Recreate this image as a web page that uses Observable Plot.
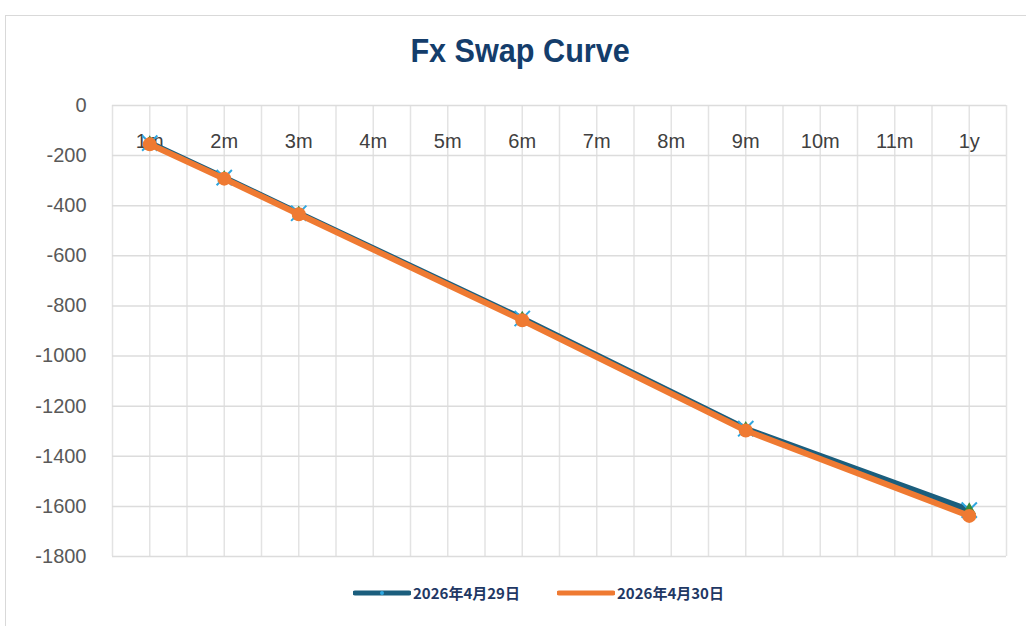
<!DOCTYPE html>
<html><head><meta charset="utf-8">
<script src="https://cdn.jsdelivr.net/npm/d3@7"></script>
<script src="https://cdn.jsdelivr.net/npm/@observablehq/plot@0.6"></script>
<style>
body{margin:0;background:#fff;}
#wrap{position:relative;width:1026px;height:626px;overflow:hidden;background:#fff;}
#frame{position:absolute;left:5px;top:15px;width:1040px;height:640px;border:1.5px solid #d9d9d9;box-sizing:border-box;}
#title{position:absolute;left:0;width:1040px;top:31px;text-align:center;font-family:"Liberation Sans",Arial,sans-serif;font-weight:bold;font-size:34px;color:#143d6b;transform:scaleX(0.9);transform-origin:521px 0;}
#chart{position:absolute;left:0;top:0;}
.leg{position:absolute;top:582px;display:flex;align-items:center;font-family:"Noto Sans CJK SC",sans-serif;font-weight:bold;font-size:15px;color:#1f3864;}
</style></head>
<body>
<div id="wrap">
<div id="frame"></div>
<div id="chart"></div>
<div id="title">Fx Swap Curve</div>
<div id="legend"></div>
</div>
<script>
const categories = ["1m","2m","3m","4m","5m","6m","7m","8m","9m","10m","11m","1y"];
const tenors = ["1m","2m","3m","6m","9m","1y"];
const seriesNames = ["2026年4月29日","2026年4月30日"];
const values0429 = [-150,-288,-430,-850,-1290,-1615];
const values0430 = [-155,-292,-434,-857,-1297,-1638];
const yTicks = [0,-200,-400,-600,-800,-1000,-1200,-1400,-1600,-1800];
const colors = ["#1b5e7d","#ef7a32"];

const idx = c => categories.indexOf(c);
const s1 = tenors.map((t,i)=>({x:idx(t), y:values0429[i]}));
const s2 = tenors.map((t,i)=>({x:idx(t), y:values0430[i]}));
const vgrid = d3.range(-0.5, categories.length, 0.5);

const plot = Plot.plot({
  width:1026, height:626,
  marginLeft:112, marginRight:20, marginTop:105, marginBottom:70,
  x:{domain:[-0.5, categories.length-0.5], axis:null},
  y:{domain:[-1800,0], axis:null},
  style:{fontFamily:"'Liberation Sans',Arial,sans-serif", background:"transparent"},
  marks:[
    Plot.ruleX(vgrid,{stroke:"#e3e3e3",strokeWidth:1.5}),
    Plot.ruleY(yTicks,{stroke:"#dcdcdc",strokeWidth:1.5}),
    Plot.axisY({ticks:yTicks, tickFormat:d=>String(d), tickSize:0, tickPadding:26, fontSize:20, fill:"#595959", color:"#595959", label:null}),
    Plot.text(categories,{x:(d,i)=>i, y:()=>0, dy:36, text:d=>d, fontSize:20, fill:"#404040"}),
    Plot.line(s1,{x:"x",y:"y",stroke:colors[0],strokeWidth:6}),
    Plot.dot(s1,{x:"x",y:"y",symbol:"times",r:7,stroke:"#2ea6df",strokeWidth:2}),
    Plot.dot(s1,{x:"x",y:"y",symbol:"triangle",r:5,fill:"#3a8a3a"}),
    Plot.line(s2,{x:"x",y:"y",stroke:colors[1],strokeWidth:6}),
    Plot.dot(s2,{x:"x",y:"y",r:7,fill:colors[1]})
  ]
});
document.getElementById("chart").appendChild(plot);

const leg = document.getElementById("legend");
const lefts = [353, 557];
seriesNames.forEach((n,i)=>{
  const d = document.createElement("div");
  d.className="leg"; d.style.left = lefts[i]+"px";
  d.innerHTML = `<svg width="58" height="20"><line x1="2" x2="56" y1="10" y2="10" stroke="${colors[i]}" stroke-width="5" stroke-linecap="round"/><circle cx="29" cy="10" r="2" fill="${i?colors[1]:'#2ea6df'}"/></svg><span style="margin-left:2px">${n}</span>`;
  leg.appendChild(d);
});
</script>
</body></html>
